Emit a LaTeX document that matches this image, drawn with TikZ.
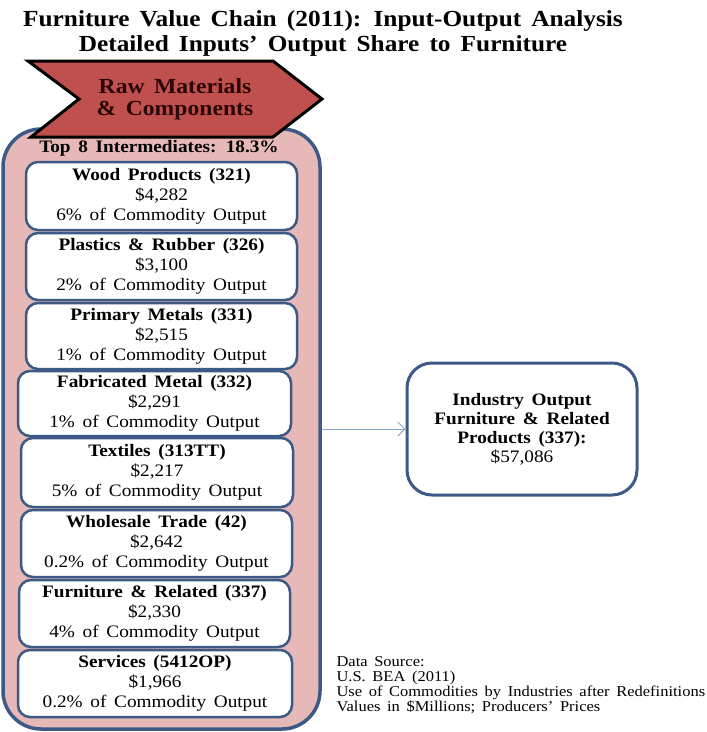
\documentclass[tikz,border=0pt]{standalone}
\usepackage{fontspec}
\setmainfont[FakeStretch=1.1, WordSpace=1.6]{Liberation Serif}
\usetikzlibrary{arrows.meta}
\definecolor{chev}{HTML}{C0504D}
\definecolor{pinkfill}{HTML}{E6B9B8}
\definecolor{navy}{HTML}{3D5A86}
\definecolor{arrc}{HTML}{8AA6C8}
\definecolor{chevtext}{HTML}{2A0606}
\begin{document}
\begin{tikzpicture}[x=1pt,y=-1pt,
  inbox/.style={draw=navy, line width=2.5pt, fill=white, rounded corners=12pt,
    align=center, inner sep=0pt, font=\fontsize{17.5}{20}\selectfont},
  outerbox/.style={draw=navy, line width=3.5pt, fill=pinkfill, rounded corners=38pt,
    minimum width=317pt, minimum height=600pt, inner sep=0pt},
  indbox/.style={draw=navy, line width=3pt, fill=white, rounded corners=25pt,
    minimum width=230pt, minimum height=132pt, align=center, inner sep=0pt,
    font=\fontsize{17.5}{19}\selectfont},
  titletext/.style={align=center, font=\bfseries\fontsize{23}{25}\selectfont},
  srctext/.style={align=left, anchor=west, font=\fontsize{15}{15}\selectfont},
  flow/.style={draw=arrc, line width=1pt, -{Straight Barb[length=7pt,width=14pt]}}
]
\useasboundingbox (0,0) rectangle (707,732);

% title
\node[titletext] (title) at (323,33) {Furniture Value Chain (2011): Input-Output Analysis\\Detailed Inputs’ Output Share to Furniture};

% outer container
\node[outerbox] (outer) at (161.5,429) {};

% chevron
\draw[fill=chev, draw=black, line width=3pt, line join=miter]
  (28,61) -- (273,61) -- (322,99) -- (273,137) -- (31,137) -- (79,99) -- cycle;
\node[align=center, text=chevtext, font=\bfseries\fontsize{21.5}{22}\selectfont] (chevlabel) at (175,99) {Raw Materials\\\& Components};

\node[font=\bfseries\fontsize{17.5}{20}\selectfont] (top8) at (159,148) {Top 8 Intermediates: 18.3\%};

% inner boxes
\node[inbox, minimum width=271pt, minimum height=68pt] (wood) at (161.5,196)
  {\textbf{Wood Products (321)}\\\$4,282\\6\% of Commodity Output};
\node[inbox, minimum width=271pt, minimum height=67pt] (plast) at (161.5,266.5)
  {\textbf{Plastics \& Rubber (326)}\\\$3,100\\2\% of Commodity Output};
\node[inbox, minimum width=271pt, minimum height=66pt] (prim) at (161.5,336)
  {\textbf{Primary Metals (331)}\\\$2,515\\1\% of Commodity Output};
\node[inbox, minimum width=273pt, minimum height=65pt] (fab) at (154.5,403.5)
  {\textbf{Fabricated Metal (332)}\\\$2,291\\1\% of Commodity Output};
\node[inbox, minimum width=272pt, minimum height=69pt] (text) at (157,472.5)
  {\textbf{Textiles (313TT)}\\\$2,217\\5\% of Commodity Output};
\node[inbox, minimum width=271pt, minimum height=67pt] (whole) at (156.5,543.5)
  {\textbf{Wholesale Trade (42)}\\\$2,642\\0.2\% of Commodity Output};
\node[inbox, minimum width=271pt, minimum height=67pt] (furn) at (154.5,613.5)
  {\textbf{Furniture \& Related (337)}\\\$2,330\\4\% of Commodity Output};
\node[inbox, minimum width=274pt, minimum height=67pt] (serv) at (155,683.5)
  {\textbf{Services (5412OP)}\\\$1,966\\0.2\% of Commodity Output};

% industry output
\node[indbox] (ind) at (522,429)
  {\textbf{Industry Output}\\\textbf{Furniture \& Related}\\\textbf{Products (337):}\\\$57,086};

\draw[flow] (outer.east) -- (ind.west);

% data source
\node[srctext] (src) at (333,685.5)
  {Data Source:\\U.S. BEA (2011)\\Use of Commodities by Industries after Redefinitions\\Values in \$Millions; Producers’ Prices};
\end{tikzpicture}
\end{document}
